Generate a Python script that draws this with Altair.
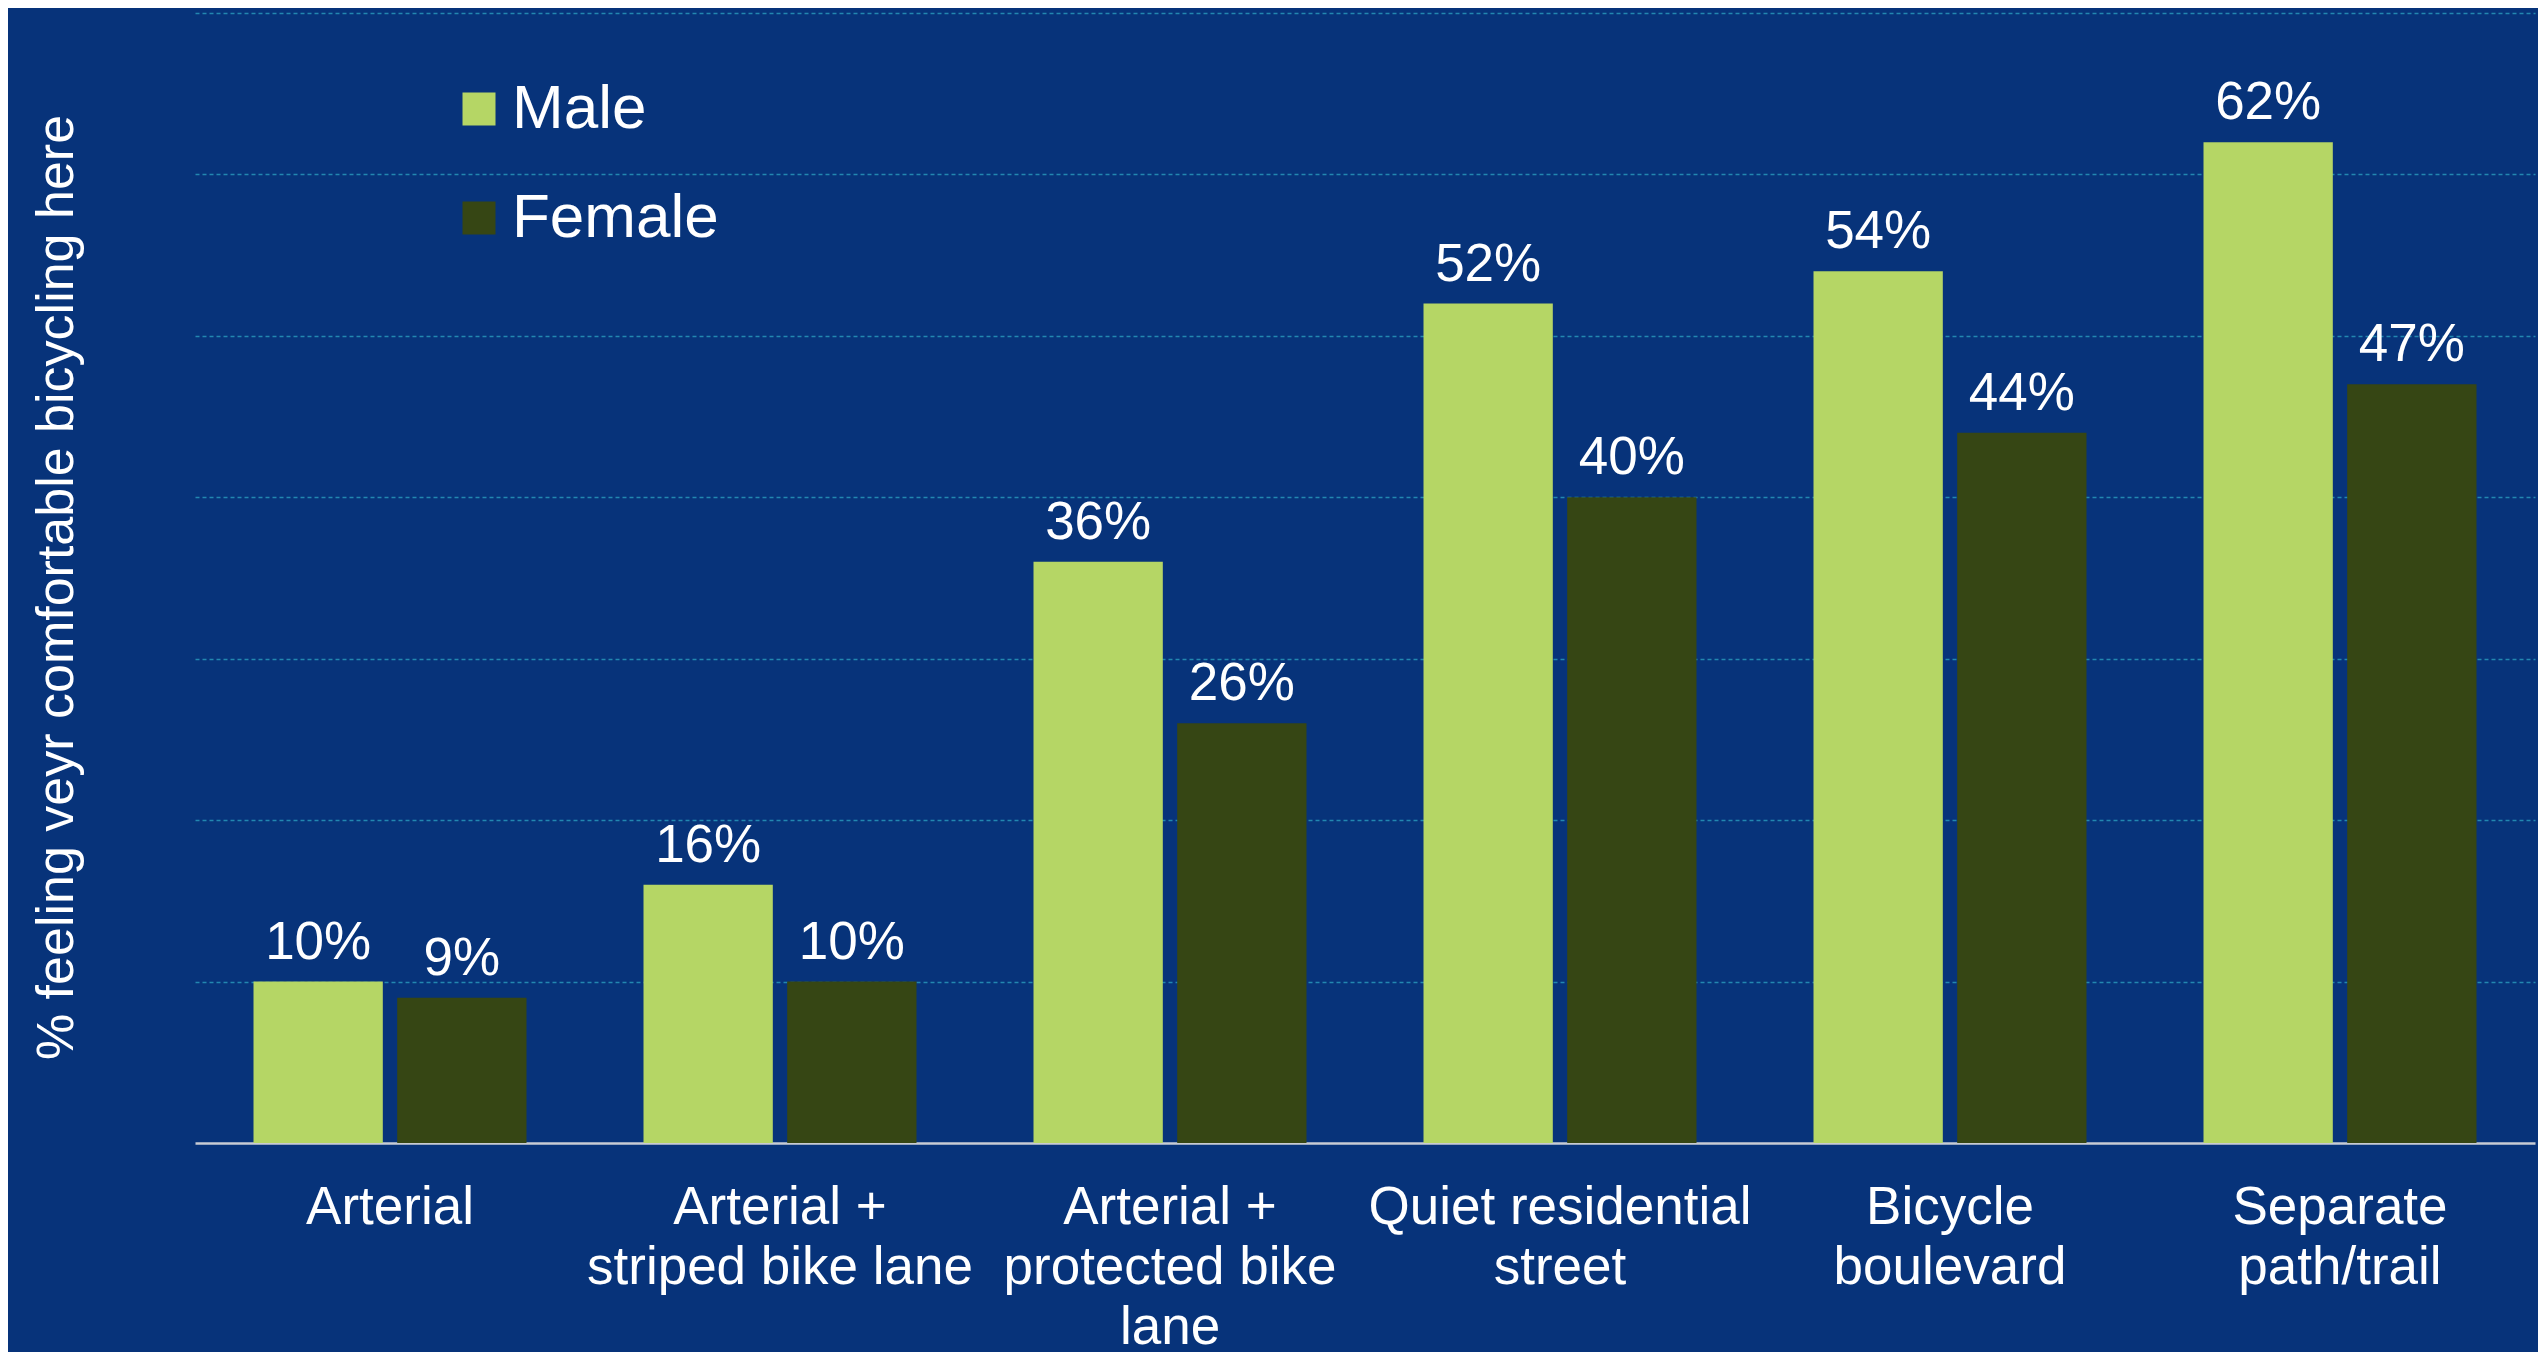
import altair as alt
import pandas as pd

categories = [
    "Arterial",
    "Arterial +|striped bike lane",
    "Arterial +|protected bike|lane",
    "Quiet residential|street",
    "Bicycle|boulevard",
    "Separate|path/trail",
]
male = [10, 16, 36, 52, 54, 62]
female = [9, 10, 26, 40, 44, 47]
groups = ["Male", "Female"]
colors = ["#B5D665", "#364614"]

rows = []
for c, m, f in zip(categories, male, female):
    rows.append({"category": c, "sex": "Male", "value": m})
    rows.append({"category": c, "sex": "Female", "value": f})
df = pd.DataFrame(rows)

FONT = "Liberation Sans"
BG = "#07337A"

x_enc = alt.X(
    "category:N",
    sort=categories,
    scale=alt.Scale(paddingInner=0.3, paddingOuter=0.15),
    axis=alt.Axis(
        title=None,
        labelAngle=0,
        ticks=False,
        domainColor="#C8CCD4",
        domainWidth=2.5,
        labelFont=FONT,
        labelFontSize=53,
        labelColor="white",
        labelPadding=38,
        labelLineHeight=60,
        labelLimit=800,
        labelOverlap=False,
        labelExpr="split(datum.value, '|')",
    ),
)
xo_enc = alt.XOffset(
    "sex:N", sort=groups, scale=alt.Scale(paddingInner=0.1, paddingOuter=0)
)
y_enc = alt.Y(
    "value:Q",
    scale=alt.Scale(domain=[0, 70], nice=False),
    axis=alt.Axis(
        title="% feeling veyr comfortable bicycling here",
        titleFont=FONT,
        titleFontSize=52,
        titleFontWeight="normal",
        titleColor="white",
        titlePadding=112,
        titleY=574,
        labels=False,
        ticks=False,
        domain=False,
        grid=True,
        gridColor="#2387B0",
        gridDash=[4, 3],
        gridWidth=1.5,
        values=[10, 20, 30, 40, 50, 60, 70],
    ),
)

base = alt.Chart(df)

bars = base.mark_bar().encode(
    x=x_enc,
    xOffset=xo_enc,
    y=y_enc,
    color=alt.Color(
        "sex:N",
        sort=groups,
        scale=alt.Scale(domain=groups, range=colors),
        legend=alt.Legend(
            title=None,
            orient="none",
            legendX=253,
            legendY=65,
            direction="vertical",
            symbolType="square",
            symbolSize=1089,
            symbolStrokeWidth=0,
            symbolOpacity=1,
            labelFont=FONT,
            labelFontSize=62,
            labelColor="white",
            labelOffset=2,
            labelLimit=600,
            rowPadding=47,
            padding=0,
        ),
    ),
)

labels = base.transform_calculate(label="datum.value + '%'").mark_text(
    baseline="alphabetic", dy=-23, fontSize=53, font=FONT, color="white"
).encode(x=x_enc, xOffset=xo_enc, y=y_enc, text="label:N")

chart = (
    alt.layer(bars, labels)
    .properties(
        width=2340,
        height=1130,
        autosize=alt.AutoSizeParams(type="none"),
        padding={"left": 187, "top": 5, "right": 3, "bottom": 230},
    )
    .configure(background=BG)
    .configure_view(strokeWidth=0)
)

chart.save("out.html", embed_options={"renderer": "svg", "actions": False})
